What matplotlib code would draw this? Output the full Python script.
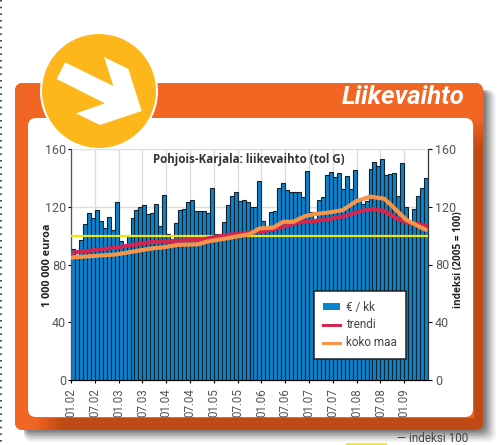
import matplotlib
matplotlib.use('Agg')
import matplotlib.pyplot as plt
import matplotlib.patches as patches
from matplotlib.lines import Line2D
import numpy as np

plt.rcParams['font.family'] = ['Roboto', 'DejaVu Sans']

# kuukausiarvot 01.02 - 06.09
bars = [90.5, 85, 97, 108, 116, 112, 118, 110, 105, 113, 104, 123,
        96.5, 93, 100, 112, 118, 120, 121, 115, 116, 122, 107, 128,
        101, 96, 109, 118, 118.5, 123.5, 124.5, 117, 117, 117, 116, 133,
        101, 99, 109.5, 121, 127.5, 130, 124, 124.5, 123, 119.5, 119.5, 138,
        110, 104, 116.5, 117, 133, 136.5, 131.5, 130, 130, 130, 127, 144.5,
        116.5, 111, 125, 127, 142, 144, 140.5, 143.5, 132, 141, 132, 145.5,
        124, 122, 124, 146, 151, 148, 153, 142, 142.5, 143.5, 127.5, 150,
        120, 110, 118.5, 127.5, 133, 140]
tick_labels = ['01.02', '07.02', '01.03', '07.03', '01.04', '07.04', '01.05', '07.05',
               '01.06', '07.06', '01.07', '07.07', '01.08', '07.08', '01.09']

trend_x = [0, 11.5, 20, 28, 33, 39, 45, 49, 53, 57, 61, 65, 69, 73, 76, 79, 82, 85, 87.5, 89.5]
trend = [88, 91.8, 95.5, 96.6, 97.3, 100.3, 102, 103.3, 105.6, 109, 110, 111.4, 113.5, 117, 118.4,
         117, 112, 109, 108, 107]
koko_x = [0, 11.5, 20, 23.5, 27, 32, 34.5, 39, 45, 47.5, 51, 53.5, 56, 59, 61.5, 65, 68.5, 72, 75.5,
          79, 81.5, 84.5, 87.5, 89.5]
koko = [84.8, 87, 91, 92, 93.6, 94, 96, 98, 101, 105, 105.6, 109.6, 109.6, 113.5, 115, 116, 117.7,
        124, 127, 125.5, 119, 111, 106.6, 104]

W, H = 499, 445
fig = plt.figure(figsize=(W / 100, H / 100), dpi=100, facecolor='white')

# tausta pikseleissa
bg = fig.add_axes([0, 0, 1, 1])
bg.axis('off')

for i, a in enumerate(np.linspace(0.04, 0.12, 8)):
    d = 12 - i * 1.5
    bg.add_patch(patches.FancyBboxPatch((24, 90), 460 + d, 340 + d, boxstyle='round,pad=0,rounding_size=8',
                                        fc='black', ec='none', alpha=a))

# oranssi laatikko, tummuu oikealta ja alhaalta
box = patches.FancyBboxPatch((15, 83), 468, 347, boxstyle='round,pad=0,rounding_size=8', fc='#f26522', ec='none')
bg.add_patch(box)
yy, xx = np.mgrid[83:430, 15:483]
dark = np.maximum(np.clip((yy - 118) / 30, 0, 1) * (xx > 473), np.clip((xx - 35) / 25, 0, 1) * (yy > 417))
c1 = np.array([0xf2, 0x65, 0x22]) / 255
c2 = np.array([0xc0, 0x4a, 0x14]) / 255
im = bg.imshow(c1 + dark[..., None] * (c2 - c1), extent=(15, 483, 430, 83), aspect='auto', zorder=1)
im.set_clip_path(box)
bg.set_xlim(0, W)
bg.set_ylim(H, 0)

bg.add_patch(patches.FancyBboxPatch((28, 118), 445, 299, boxstyle='round,pad=0,rounding_size=8',
                                    fc='white', ec='none', zorder=2))
bg.add_patch(patches.Circle((99, 91), 58, fc='#fdb71a', ec='white', lw=1.5, zorder=3))
arrow = np.array([(195, 187), (340, 258), (312, 171), (385, 207), (425, 333),
                  (300, 375), (228, 340), (315, 310), (170, 237)]) / 3
bg.add_patch(patches.Polygon(arrow, fc='white', ec='none', zorder=4))
bg.text(465, 97, 'Liikevaihto', color='white', fontsize=18.5, fontweight='bold', style='italic',
        ha='right', va='center', zorder=4)
bg.plot([1, 1], [0, H], color='#333333', lw=1.2, linestyle=(0, (1, 3)), zorder=5)
bg.plot([347, 385], [444, 444], color='#f5ea14', lw=2, zorder=5)
bg.text(468, 438, '— indeksi 100', color='#444444', fontsize=8.5, ha='right', va='center', zorder=5)

# kuvaaja
ax = fig.add_axes([71 / W, 1 - 380 / H, 357 / W, 231 / H])
ax.patch.set_alpha(0)
x = np.arange(len(bars))
ax.bar(x, bars, width=1, align='edge', color='#0a84cc', edgecolor='#14202a', linewidth=0.8, zorder=2)
ax.axhline(100, color='#f2e500', lw=1.6, zorder=3)
ax.plot(trend_x, trend, color='#d2264f', lw=3.0, zorder=4, solid_capstyle='round')
ax.plot(koko_x, koko, color='#f8934a', lw=3.0, zorder=5, solid_capstyle='round')

ax.set_xlim(0, 90)
ax.set_ylim(0, 160)
ax.set_yticks(range(0, 161, 40))
ax.set_xticks(range(0, 90, 6))
ax.set_xticklabels(tick_labels, rotation=90, fontsize=8.3, color='#555555')
ax.tick_params(axis='y', labelsize=9, labelcolor='#555555', length=2, pad=1.5)
ax.tick_params(axis='x', length=2, pad=4)
ax.grid(color='#dddddd', lw=1, zorder=0)
ax.set_axisbelow(True)
ax.spines['top'].set_visible(False)
ax.spines['left'].set_color('#555555')
ax.spines['right'].set_color('#333333')

ax2 = ax.twinx()
ax2.set_ylim(0, 160)
ax2.set_yticks(range(0, 161, 40))
ax2.tick_params(axis='y', labelsize=9, labelcolor='#555555', length=3, pad=2)
ax2.spines['top'].set_visible(False)
ax2.spines['right'].set_color('#333333')

fig.text(47 / W, 1 - 265 / H, '1 000 000 euroa', fontsize=7.8, fontweight='bold', rotation=90,
         family=['Open Sans'], color='#222222', ha='center', va='center', zorder=10)
fig.text(458 / W, 1 - 260 / H, 'indeksi (2005 = 100)', fontsize=7.2, fontweight='bold', rotation=90,
         family=['Open Sans'], color='#222222', ha='center', va='center', zorder=10)
fig.text(249 / W, 1 - 160 / H, 'Pohjois-Karjala: liikevaihto (tol G)', fontsize=8.3, fontweight='bold',
         family=['Open Sans'], color='#333333', ha='center', va='center', zorder=10)

handles = [patches.Patch(fc='#0a84cc', ec='none'),
           Line2D([], [], color='#d2264f', lw=2.2),
           Line2D([], [], color='#f8934a', lw=2.2)]
leg = ax.legend(handles, ['€ / kk', 'trendi', 'koko maa'], loc='center',
                bbox_to_anchor=((360 - 71) / 357, 55 / 231), fontsize=8.5, frameon=True, fancybox=False,
                framealpha=1, edgecolor='#222222', handlelength=1.45, handleheight=0.5, labelspacing=0.42,
                borderpad=0.8, handletextpad=0.5, borderaxespad=0)
leg.get_frame().set_linewidth(1.1)
leg.set_zorder(20)
for t in leg.get_texts():
    t.set_color('#444444')
ax.set_zorder(3)
ax2.set_zorder(2)

fig.savefig('out.png', dpi=100)
